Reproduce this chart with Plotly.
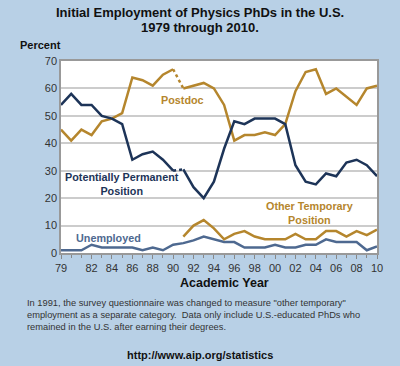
import plotly.graph_objects as go

years = list(range(1979, 2011))
postdoc = [45, 41, 45, 43, 48, 49, 51, 64, 63, 61, 65, 67,
           60, 61, 62, 60, 54, 41, 43, 43, 44, 43, 47, 59, 66, 67, 58, 60, 57, 54, 60, 61]
permanent = [54, 58, 54, 54, 50, 49, 47, 34, 36, 37, 34, 30,
             30.5, 24, 20, 26, 38, 48, 47, 49, 49, 49, 47, 32, 26, 25, 29, 28, 33, 34, 32, 28]
other_years = list(range(1991, 2011))
other_temp = [6, 10, 12, 9, 5, 7, 8, 6, 5, 5, 5, 7, 5, 5, 8, 8, 6, 8, 6.5, 8.5]
unemployed = [1, 1, 1, 3, 2, 2, 2, 2, 1, 2, 1, 3,
              3.6, 4.6, 6, 5, 4, 4, 2, 2, 2, 3, 2, 2, 3, 3, 5, 4, 4, 4, 1, 2.4]
tick_years = [1979, 1982, 1984, 1986, 1988, 1990, 1992, 1994, 1996, 1998,
              2000, 2002, 2004, 2006, 2008, 2010]
tick_labels = ["79", "82", "84", "86", "88", "90", "92", "94", "96", "98",
               "00", "02", "04", "06", "08", "10"]

GOLD = "#b5862d"
NAVY = "#1d3458"
SLATE = "#4e6990"
BG = "#b8d0e6"
FONT = "Liberation Sans, Arial, sans-serif"

W, H = 400, 366
ML, MR, MT, MB = 61, 23, 61, 113

split = years.index(1991)
fig = go.Figure()
fig.add_trace(go.Scatter(x=years, y=unemployed, mode="lines",
                         line=dict(color=SLATE, width=2.5)))
fig.add_trace(go.Scatter(x=other_years, y=other_temp, mode="lines",
                         line=dict(color=GOLD, width=2.5)))
fig.add_trace(go.Scatter(x=years[:split], y=postdoc[:split], mode="lines",
                         line=dict(color=GOLD, width=2.5)))
fig.add_trace(go.Scatter(x=years[split - 1:split + 1], y=postdoc[split - 1:split + 1], mode="lines",
                         line=dict(color=GOLD, width=2.5, dash="dot")))
fig.add_trace(go.Scatter(x=years[split:], y=postdoc[split:], mode="lines",
                         line=dict(color=GOLD, width=2.5)))
fig.add_trace(go.Scatter(x=years[:split], y=permanent[:split], mode="lines",
                         line=dict(color=NAVY, width=2.5)))
fig.add_trace(go.Scatter(x=years[split - 1:split + 1], y=permanent[split - 1:split + 1], mode="lines",
                         line=dict(color=NAVY, width=2.5, dash="dot")))
fig.add_trace(go.Scatter(x=years[split:], y=permanent[split:], mode="lines",
                         line=dict(color=NAVY, width=2.5)))

fig.update_layout(
    width=W, height=H,
    paper_bgcolor=BG, plot_bgcolor="white",
    showlegend=False,
    margin=dict(l=ML, r=MR, t=MT, b=MB),
    font=dict(family=FONT, color="#333333", size=11),
    xaxis=dict(range=[1979, 2010], tickvals=tick_years, ticktext=tick_labels,
               ticks="outside", ticklen=4, tickcolor="#888888",
               minor=dict(dtick=1, tick0=1979, ticks="outside", ticklen=3, tickcolor="#888888"),
               showgrid=False, showline=True, linecolor="#999999", linewidth=1.5, mirror=True,
               tickfont=dict(size=11, color="#333333"), zeroline=False),
    yaxis=dict(range=[0, 70], dtick=10, ticks="", showgrid=True,
               gridcolor="#cccccc", gridwidth=1.5,
               showline=True, linecolor="#999999", linewidth=1.5, mirror=True,
               tickfont=dict(size=11, color="#333333"), zeroline=False),
)


def px_ann(text, px, py, size, color="#111111", xanchor="left", align="left"):
    fig.add_annotation(text=text, showarrow=False, xref="paper", yref="paper",
                       x=(px - ML) / (W - ML - MR), y=(H - MB - py) / (H - MT - MB),
                       xanchor=xanchor, yanchor="middle", align=align,
                       font=dict(size=size, color=color))


px_ann("<b>Initial Employment of Physics PhDs in the U.S.</b>", 200, 12, 13, xanchor="center")
px_ann("<b>1979 through 2010.</b>", 200, 27, 13, xanchor="center")
px_ann("<b>Percent</b>", 18, 45, 11)
px_ann("<b>Academic Year</b>", 224, 283, 12.5, xanchor="center")
px_ann("In 1991, the survey questionnaire was changed to measure \"other temporary\"", 25, 303, 9.3, color="#333333")
px_ann("employment as a separate category.  Data only include U.S.-educated PhDs who", 25, 315, 9.3, color="#333333")
px_ann("remained in the U.S. after earning their degrees.", 25, 327, 9.3, color="#333333")
px_ann("<b>http://www.aip.org/statistics</b>", 200, 355, 11, xanchor="center")

series_labels = [
    dict(text="<b>Postdoc</b>", x=1990.9, y=55.8, color=GOLD),
    dict(text="<b>Potentially Permanent<br>Position</b>", x=1984.95, y=25.0, color=NAVY),
    dict(text="<b>Unemployed</b>", x=1983.7, y=5.6, color=SLATE),
    dict(text="<b>Other Temporary<br>Position</b>", x=2003.4, y=14.5, color=GOLD),
]
for s in series_labels:
    fig.add_annotation(text=s["text"], x=s["x"], y=s["y"], xref="x", yref="y",
                       showarrow=False, xanchor="center", yanchor="middle",
                       font=dict(size=10.8, color=s["color"]))

fig.write_html("out.html", config={"displayModeBar": False},
               post_script="document.body.style.margin='0';document.body.style.overflow='hidden';")
